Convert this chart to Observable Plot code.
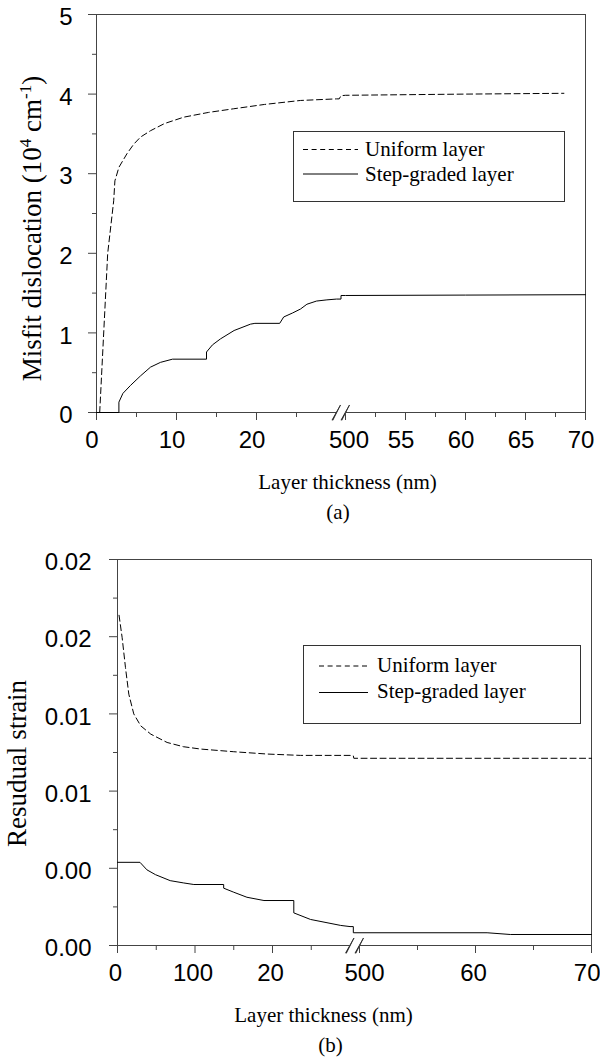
<!DOCTYPE html>
<html>
<head>
<meta charset="utf-8">
<script src="https://cdn.jsdelivr.net/npm/d3@7"></script>
<script src="https://cdn.jsdelivr.net/npm/@observablehq/plot@0.6"></script>
<style>
  body { margin: 0; background: #fff; }
  .panel { position: relative; width: 600px; height: 531px; overflow: visible; }
  .panel > svg { display: block; }
</style>
</head>
<body>
<div id="pa" class="panel"></div>
<div id="pb" class="panel"></div>
<script>
// ---------- Panel (a): misfit dislocation ----------
const aXDomain = [0, 30, 50, 70];           // broken axis: 0–30 | 50–70
const aBreaks = [30, 50];
const aXMajor = [0, 10, 20, 50, 55, 60, 65, 70];
const aXMajorLabels = ["0", "10", "20", "500", "55", "60", "65", "70"];
const aXMinor = [5, 15, 25, 52.5, 57.5, 62.5, 67.5];
const aYDomain = [0, 5];
const aYMajor = [0, 1, 2, 3, 4, 5];
const aYMajorLabels = ["0", "1", "2", "3", "4", "5"];
const aYMinor = [0.5, 1.5, 2.5, 3.5, 4.5];
const aUniformX = [0.4, 1.4, 2.15, 2.3, 2.8, 3.8, 4.65, 5.5, 6.75, 8.5, 10.9, 14, 17.1, 21, 25.5, 30, 36, 40, 50, 60, 68.2];
const aUniformY = [0, 2.0, 2.66, 2.91, 3.08, 3.25, 3.37, 3.46, 3.54, 3.63, 3.71, 3.77, 3.815, 3.87, 3.92, 3.94, 3.94, 3.98, 3.985, 4.0, 4.01];
const aGradedX = [0, 2.8, 2.8, 3.3, 4.25, 5.5, 6.75, 8, 9.5, 13.75, 13.75, 14.5, 15.5, 17.2, 19.25, 19.8, 22.9, 23.4, 24.5, 25.5, 26.3, 27.5, 28.8, 30, 40, 40, 50, 60, 70];
const aGradedY = [0, 0, 0.13, 0.24, 0.34, 0.46, 0.57, 0.63, 0.67, 0.67, 0.76, 0.85, 0.925, 1.03, 1.11, 1.12, 1.12, 1.2, 1.25, 1.30, 1.36, 1.40, 1.415, 1.425, 1.425, 1.47, 1.47, 1.475, 1.48];
const aYLabelParts = [["Misfit dislocation (10", 0], ["4", 1], [" cm", 0], ["-1", 1], [")", 0]];
const aXLabel = "Layer thickness (nm)";
const aCaption = "(a)";

// ---------- Panel (b): residual strain ----------
const bXDomain = [0, 30, 50, 70];
const bBreaks = [30, 50];
const bXMajor = [0, 10, 20, 50, 60, 70];
const bXMajorLabels = ["0", "100", "20", "500", "60", "70"];
const bXMinor = [5, 15, 25, 55, 65];
const bYDomain = [0, 0.02];
const bYMajor = [0, 0.004, 0.008, 0.012, 0.016, 0.02];
const bYMajorLabels = ["0.00", "0.00", "0.01", "0.01", "0.02", "0.02"];
const bYMinor = [0.002, 0.006, 0.01, 0.014, 0.018];
const bUniformX = [0.2, 0.6, 1.03, 1.46, 2.1, 3.0, 4.3, 6.4, 8.5, 10.7, 15, 19.3, 23.6, 30, 37, 38, 50, 70];
const bUniformY = [0.01711, 0.01595, 0.0144, 0.01302, 0.012, 0.01138, 0.01095, 0.01052, 0.0103, 0.01018, 0.01004, 0.00992, 0.00985, 0.00985, 0.00983, 0.0097, 0.0097, 0.0097];
const bGradedX = [0, 2.9, 3.8, 4.9, 6.8, 8.55, 9.85, 13.7, 13.7, 15, 16.7, 18.9, 22.75, 22.75, 24.9, 28.8, 30, 37, 37, 61, 63, 70];
const bGradedY = [0.00431, 0.00431, 0.00392, 0.00367, 0.00336, 0.00324, 0.00316, 0.00316, 0.00297, 0.00276, 0.0025, 0.00233, 0.00233, 0.00169, 0.00135, 0.00104, 0.00098, 0.00098, 0.00066, 0.00066, 0.00057, 0.00057];
const bYLabelParts = [["Resudual strain", 0]];
const bXLabel = "Layer thickness (nm)";
const bCaption = "(b)";

const legendLabels = ["Uniform layer", "Step-graded layer"];

// ---------- styling ----------
const SANS = "Liberation Sans, Arial, Helvetica, sans-serif";
const SERIF = "Liberation Serif, Times New Roman, Times, serif";
const FRAME = "#444";
const DASH = "6,3.5";

function buildPanel(c) {
  const uniform = d3.zip(c.ux, c.uy);
  const graded = d3.zip(c.gx, c.gy);
  const d0 = c.xDomain[0], d1 = c.xDomain[c.xDomain.length - 1];
  const segs = [[d0, c.breaks[0]], [c.breaks[1], d1]];
  const yLabelText = c.yLabelParts.map(p => p[0]).join("");
  const breakLabelX = c.xMajor.filter(v => v === c.breaks[1]);
  const lastLabelX = c.xMajor.filter(v => v === d1);
  const otherLabelX = c.xMajor.filter(v => v !== c.breaks[1] && v !== d1);
  const xl = v => c.xMajorLabels[c.xMajor.indexOf(v)];
  const yl = v => c.yMajorLabels[c.yMajor.indexOf(v)];
  const tickText = {frameAnchor: "bottom", lineAnchor: "top", dy: 18, fontSize: 24, fontFamily: SANS, fill: "#000"};

  const svg = Plot.plot({
    width: 600, height: 531,
    marginTop: c.mt, marginLeft: c.ml, marginRight: c.mr, marginBottom: c.mb,
    x: {type: "linear", domain: c.xDomain, range: c.xRange},
    y: {type: "linear", domain: c.yDomain, range: c.yRange},
    style: {background: "#fff", color: "#000", overflow: "visible"},
    marks: [
      // frame (bottom edge broken)
      Plot.ruleY([c.yDomain[1]], {stroke: FRAME}),
      Plot.ruleX([d0, d1], {stroke: FRAME}),
      Plot.ruleY(segs, {x1: d => d[0], x2: d => d[1], y: () => c.yDomain[0], stroke: FRAME}),
      Plot.vector(c.breaks, {x: d => d, y: () => c.yDomain[0], length: 17, rotate: 28, anchor: "middle",
        shape: "spike", r: 0.4, fill: "#222", stroke: "#222", strokeWidth: 0.7}),
      // ticks
      Plot.axisY(c.yMajor, {tickSize: 8, tickFormat: () => "", stroke: FRAME, label: null}),
      Plot.axisY(c.yMinor, {tickSize: 4, tickFormat: () => "", stroke: FRAME, label: null}),
      Plot.axisX(c.xMajor, {tickSize: 8, tickFormat: () => "", stroke: FRAME, label: null}),
      Plot.axisX(c.xMinor, {tickSize: 5, tickFormat: () => "", stroke: FRAME, label: null}),
      // tick labels
      Plot.text(c.yMajor, {y: d => d, text: yl, frameAnchor: "left", textAnchor: "end",
        dx: -c.yPad, dy: 3, fontSize: 24, fontFamily: SANS, fill: "#000"}),
      Plot.text(otherLabelX, {x: d => d, text: xl, dx: c.xdx, ...tickText}),
      Plot.text(breakLabelX, {x: d => d, text: xl, dx: c.bdx, ...tickText}),
      Plot.text(lastLabelX, {x: d => d, text: xl, dx: c.ldx, textAnchor: c.lAnchor, ...tickText}),
      // axis titles and caption
      Plot.text([yLabelText], {text: d => d, frameAnchor: "left", rotate: -90, lineAnchor: "bottom",
        textAnchor: "middle", dx: c.ylDx, dy: c.ylDy, fontSize: 27, fontFamily: SERIF, fill: "#000"}),
      Plot.text([c.xLabel], {text: d => d, frameAnchor: "bottom", lineAnchor: "bottom",
        dx: c.xlDx, dy: 76, fontSize: 21, fontFamily: SERIF, fill: "#000"}),
      Plot.text([c.caption], {text: d => d, frameAnchor: "bottom", lineAnchor: "bottom",
        dx: c.capDx, dy: 106, fontSize: 21, fontFamily: SERIF, fill: "#000"}),
      // data
      Plot.line(uniform, {x: d => d[0], y: d => d[1], stroke: "#000", strokeWidth: 1, strokeDasharray: DASH}),
      Plot.line(graded, {x: d => d[0], y: d => d[1], stroke: "#000", strokeWidth: 1})
    ]
  });

  // superscripts in the y title
  for (const t of svg.querySelectorAll("text")) {
    if (t.textContent === yLabelText && c.yLabelParts.length > 1) {
      while (t.firstChild) t.removeChild(t.firstChild);
      let prevSup = false;
      for (const [s, sup] of c.yLabelParts) {
        const ts = document.createElementNS("http://www.w3.org/2000/svg", "tspan");
        ts.textContent = s;
        if (sup && !prevSup) ts.setAttribute("dy", "-10");
        if (!sup && prevSup) ts.setAttribute("dy", "10");
        if (sup) ts.setAttribute("font-size", "17");
        t.appendChild(ts);
        prevSup = !!sup;
      }
    }
  }

  const host = document.getElementById(c.id);
  host.appendChild(svg);

  // legend box
  const ns = "http://www.w3.org/2000/svg";
  const L = c.legend;
  const lg = document.createElementNS(ns, "svg");
  lg.setAttribute("width", L.w);
  lg.setAttribute("height", L.h);
  lg.style.position = "absolute";
  lg.style.left = L.left + "px";
  lg.style.top = L.top + "px";
  const rect = document.createElementNS(ns, "rect");
  rect.setAttribute("x", 0.5); rect.setAttribute("y", 0.5);
  rect.setAttribute("width", L.w - 1); rect.setAttribute("height", L.h - 1);
  rect.setAttribute("fill", "#fff"); rect.setAttribute("stroke", "#333");
  lg.appendChild(rect);
  legendLabels.forEach((lab, i) => {
    const ln = document.createElementNS(ns, "line");
    ln.setAttribute("x1", L.s0); ln.setAttribute("x2", L.s1);
    ln.setAttribute("y1", L.sy[i]); ln.setAttribute("y2", L.sy[i]);
    ln.setAttribute("stroke", "#000");
    if (i === 0) ln.setAttribute("stroke-dasharray", "5,3.6");
    lg.appendChild(ln);
    const tx = document.createElementNS(ns, "text");
    tx.setAttribute("x", L.tx); tx.setAttribute("y", L.ty[i]);
    tx.setAttribute("font-family", SERIF); tx.setAttribute("font-size", "21");
    tx.setAttribute("fill", "#000");
    tx.textContent = lab;
    lg.appendChild(tx);
  });
  host.appendChild(lg);
}

buildPanel({
  id: "pa", mt: 14, ml: 96, mr: 15, mb: 119,
  xDomain: aXDomain, xRange: [96, 336, 345, 585], breaks: aBreaks,
  yDomain: aYDomain, yRange: [412, 14],
  xMajor: aXMajor, xMajorLabels: aXMajorLabels, xMinor: aXMinor,
  yMajor: aYMajor, yMajorLabels: aYMajorLabels, yMinor: aYMinor,
  ux: aUniformX, uy: aUniformY, gx: aGradedX, gy: aGradedY,
  yLabelParts: aYLabelParts, xLabel: aXLabel, caption: aCaption,
  yPad: 24, xdx: -4.5, bdx: 3.5, ldx: -4.5, lAnchor: "middle",
  ylDx: -56, ylDy: 15, xlDx: 6.5, capDx: -3,
  legend: {left: 293, top: 131, w: 272, h: 71, s0: 10, s1: 65, sy: [18.5, 43], tx: 72, ty: [25, 49.5]}
});

buildPanel({
  id: "pb", mt: 28, ml: 117, mr: 9, mb: 117,
  xDomain: bXDomain, xRange: [117, 349.5, 359, 591], breaks: bBreaks,
  yDomain: bYDomain, yRange: [414, 28],
  xMajor: bXMajor, xMajorLabels: bXMajorLabels, xMinor: bXMinor,
  yMajor: bYMajor, yMajorLabels: bYMajorLabels, yMinor: bYMinor,
  ux: bUniformX, uy: bUniformY, gx: bGradedX, gy: bGradedY,
  yLabelParts: bYLabelParts, xLabel: bXLabel, caption: bCaption,
  yPad: 26, xdx: -2, bdx: 5, ldx: 9, lAnchor: "end",
  ylDx: -92, ylDy: 11, xlDx: -31, capDx: -24,
  legend: {left: 303, top: 114, w: 278, h: 79, s0: 16, s1: 65, sy: [21, 47.5], tx: 74, ty: [27, 53]}
});
</script>
</body>
</html>
